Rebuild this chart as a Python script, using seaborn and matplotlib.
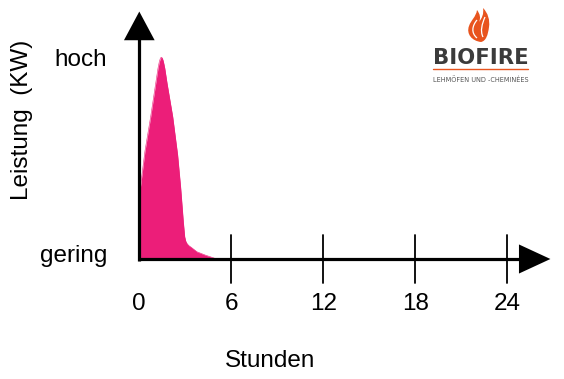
import numpy as np
import pandas as pd
import matplotlib
matplotlib.use("Agg")
import matplotlib.pyplot as plt
from matplotlib.path import Path
from matplotlib.patches import PathPatch
import seaborn as sns

# ---- data ----
hours = [0.0, 0.05, 0.37, 0.74, 1.0, 1.12, 1.22, 1.30, 1.37, 1.43, 1.50, 1.57, 1.66,
         1.81, 2.18, 2.50, 2.70, 2.87, 2.96, 3.03, 3.12, 3.25, 3.40, 3.75, 4.28, 4.9]
power = [0.327, 0.342, 0.535, 0.704, 0.835, 0.895, 0.945, 0.975, 0.993, 0.999, 0.995,
         0.978, 0.945, 0.870, 0.704, 0.515, 0.351, 0.185, 0.110, 0.088, 0.075, 0.065,
         0.057, 0.036, 0.020, 0.004]
tick_hours = [0, 6, 12, 18, 24]
tick_labels = ["0", "6", "12", "18", "24"]
level_labels = ["gering", "hoch"]
level_values = [0.0, 1.0]
x_label = "Stunden"
y_label = "Leistung  (KW)"
brand = "BIOFIRE"
brand_sub = "LEHMÖFEN UND -CHEMINÉES"

PINK = "#EC1E79"
ORANGE = "#E8541E"

sns.set_theme(style="white")
plt.rcParams['font.family'] = ['Liberation Sans', 'DejaVu Sans']

fig = plt.figure(figsize=(5.64, 3.79), dpi=100)
ax = fig.add_axes([0, 0, 1, 1])
# pixel mapping: hour 0 -> px 139.3, 15.34 px/hour ; value 0 -> py 259, 202 px/unit
ax.set_xlim(-139.3 / 15.34, (564 - 139.3) / 15.34)
ax.set_ylim((259 - 379) / 202, 259 / 202)
ax.axis("off")

df = pd.DataFrame({"hours": hours, "power": power})
ax.fill_between(df["hours"], 0, df["power"], color=PINK, lw=0, zorder=2)
sns.lineplot(data=df, x="hours", y="power", ax=ax, color=PINK, lw=0.4, zorder=2,
             sort=False)

# axes lines
lw_axis = 2.3
ax.plot([-0.1, 24.9], [0, 0], color="black", lw=lw_axis, zorder=3, solid_capstyle="butt")
ax.plot([0, 0], [-0.01, 1.1], color="black", lw=lw_axis, zorder=3, solid_capstyle="butt")
# arrow heads
ax.fill([24.75, 26.8, 24.75], [0.072, 0.0, -0.072], color="black", lw=0, zorder=3)
ax.fill([-1.0, 0.0, 1.0], [1.083, 1.225, 1.083], color="black", lw=0, zorder=3)

# tick marks & labels
for h, lab in zip(tick_hours, tick_labels):
    if h > 0:
        ax.plot([h, h], [0.119, -0.119], color="black", lw=1.3, zorder=3)
    ax.text(h, (259 - 309.5) / 202, lab, ha="center", va="baseline", fontsize=17.5,
            color="black")

# level labels
ax.text(-2.1, (259 - 262.3) / 202, level_labels[0], ha="right", va="baseline",
        fontsize=17.5, color="black")
ax.text(-2.1, (259 - 65.7) / 202, level_labels[1], ha="right", va="baseline",
        fontsize=17.5, color="black")

ax.text((270.5 - 139.3) / 15.34, (259 - 367) / 202, x_label, ha="center",
        va="baseline", fontsize=17.5, color="black")
ax.text((22 - 139.3) / 15.34, (259 - 120) / 202, y_label, ha="center", va="center",
        rotation=90, fontsize=17.5, color="black")

# ---- logo (pixel coordinates overlay) ----
lx = fig.add_axes([0, 0, 1, 1], facecolor="none")
lx.set_xlim(0, 564)
lx.set_ylim(379, 0)
lx.axis("off")

verts = [(481, 42),
         (472, 41), (466, 34), (469, 26),
         (471, 20), (476, 17), (477, 10),
         (480, 14), (481, 18), (479, 22),
         (482, 18), (484, 14), (483, 8),
         (488, 13), (490, 20), (489, 27),
         (488, 35), (486, 41), (481, 42),
         (481, 42)]
codes = [Path.MOVETO] + [Path.CURVE4] * 18 + [Path.CLOSEPOLY]
lx.add_patch(PathPatch(Path(verts, codes), facecolor=ORANGE, edgecolor="none"))
s1 = Path([(477, 38), (471, 33), (472, 26), (477, 20)],
          [Path.MOVETO, Path.CURVE4, Path.CURVE4, Path.CURVE4])
s2 = Path([(483, 37), (480, 31), (482, 24), (485, 17)],
          [Path.MOVETO, Path.CURVE4, Path.CURVE4, Path.CURVE4])
for s in (s1, s2):
    lx.add_patch(PathPatch(s, facecolor="none", edgecolor="white", lw=0.9))

lx.text(480.5, 58, brand, ha="center", va="center", fontsize=15.2,
        fontweight="bold", color="#3b3b3b", family=["DejaVu Sans"])
lx.plot([433, 528], [69, 69], color=ORANGE, lw=1.0)
lx.text(480.5, 80, brand_sub, ha="center", va="center", fontsize=4.7,
        color="#555555", family=["DejaVu Sans"])

fig.savefig("out.png", dpi=100, facecolor="white")
